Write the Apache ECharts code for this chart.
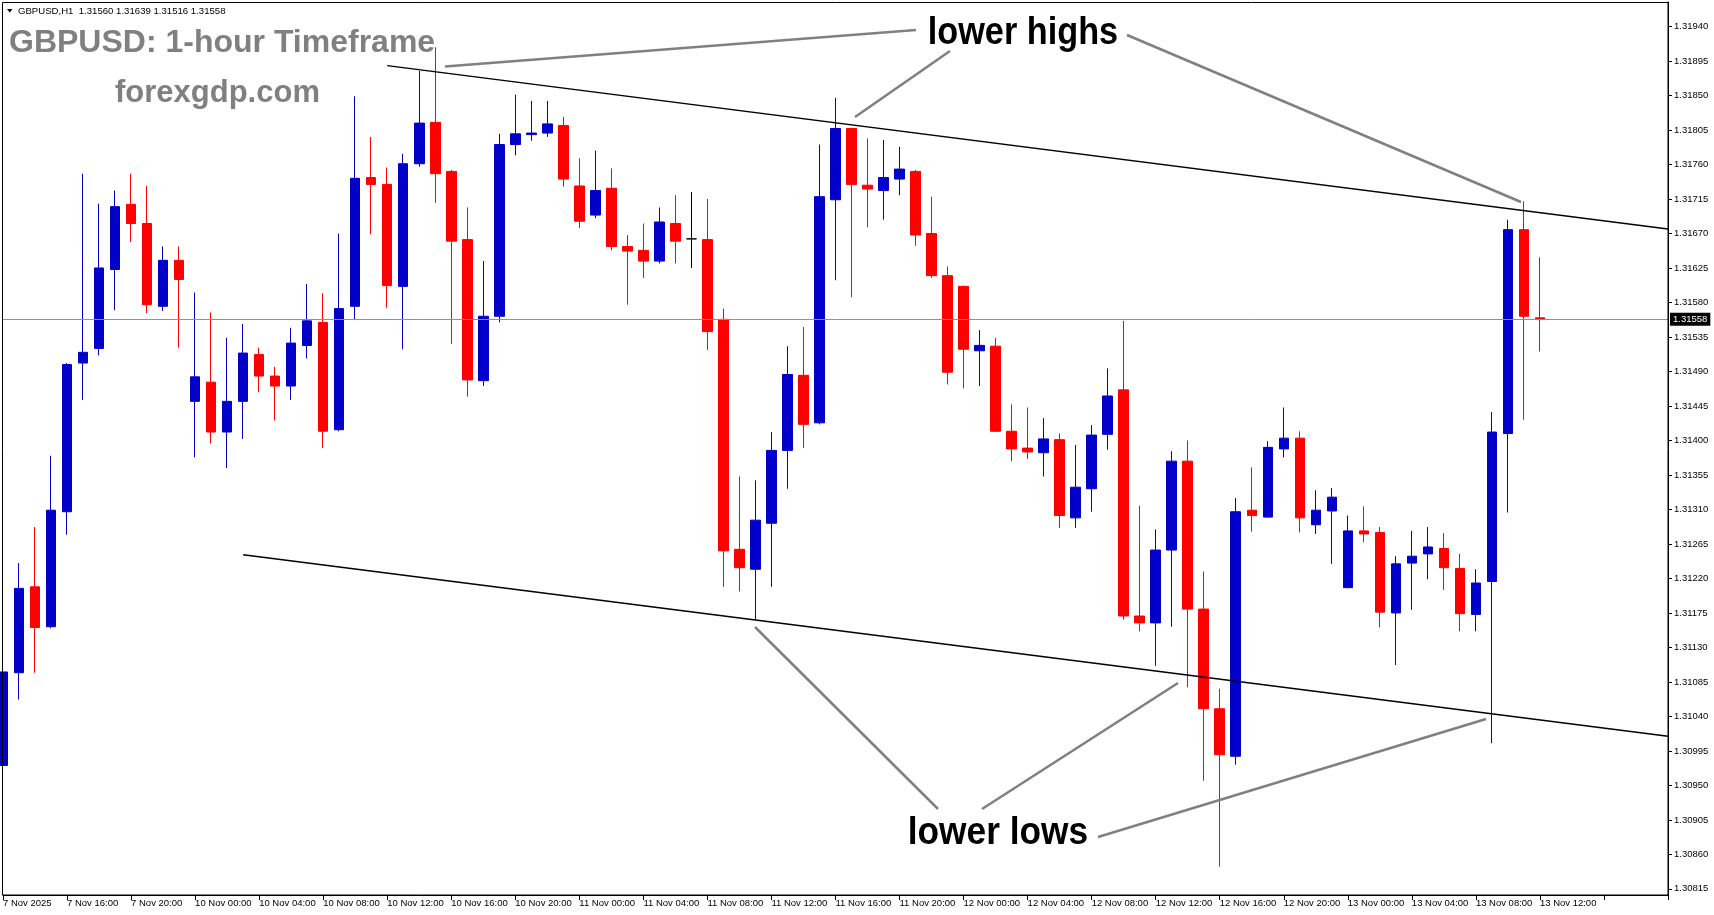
<!DOCTYPE html>
<html>
<head>
<meta charset="utf-8">
<title>GBPUSD H1</title>
<script src="https://cdn.jsdelivr.net/npm/echarts@6/dist/echarts.min.js"></script>
<style>
  html, body { margin: 0; padding: 0; background: #fff; }
  #chart { width: 1714px; height: 915px; }
</style>
</head>
<body>
<div id="chart"></div>
<script>
// hourly bars: Fri 7 Nov afternoon, then Mon 10 Nov .. Thu 13 Nov (last 8 slots are empty space)
const sessions = [
  ['7 Nov', 12, 23],
  ['10 Nov', 0, 23],
  ['11 Nov', 0, 23],
  ['12 Nov', 0, 23],
  ['13 Nov', 0, 20]
];
const firstLabel = '7 Nov 2025';

const opens = [
  1.30976, 1.31097, 1.31209, 1.31157, 1.31307, 1.31501, 1.31520, 1.31623, 1.31708, 1.31683,
  1.31575, 1.31635, 1.31451, 1.31476, 1.31411, 1.31451, 1.31512, 1.31484, 1.31471, 1.31524,
  1.31554, 1.31414, 1.31575, 1.31743, 1.31734, 1.31601, 1.31761, 1.31815, 1.31751, 1.31662,
  1.31478, 1.31562, 1.31786, 1.31799, 1.31801, 1.31811, 1.31732, 1.31694, 1.31729, 1.31653,
  1.31648, 1.31634, 1.31683, 1.31663, 1.31662, 1.31558, 1.31258, 1.31232, 1.31292, 1.31387,
  1.31485, 1.31423, 1.31714, 1.31807, 1.31733, 1.31726, 1.31741, 1.31751, 1.31670, 1.31615,
  1.31601, 1.31517, 1.31523, 1.31412, 1.31390, 1.31384, 1.31401, 1.31299, 1.31337, 1.31408,
  1.31466, 1.31171, 1.31162, 1.31257, 1.31373, 1.31180, 1.31050, 1.30988, 1.31309, 1.31300,
  1.31389, 1.31403, 1.31290, 1.31308, 1.31208, 1.31282, 1.31280, 1.31175, 1.31240, 1.31252,
  1.31259, 1.31233, 1.31173, 1.31216, 1.31409, 1.31675, 1.31560
];
const highs = [
  1.31103, 1.31240, 1.31287, 1.31380, 1.31501, 1.31748, 1.31709, 1.31726, 1.31748, 1.31732,
  1.31653, 1.31653, 1.31593, 1.31567, 1.31534, 1.31552, 1.31521, 1.31496, 1.31547, 1.31604,
  1.31592, 1.31670, 1.31849, 1.31796, 1.31756, 1.31774, 1.31882, 1.31913, 1.31753, 1.31704,
  1.31634, 1.31800, 1.31851, 1.31843, 1.31843, 1.31822, 1.31768, 1.31778, 1.31755, 1.31668,
  1.31683, 1.31704, 1.31720, 1.31724, 1.31715, 1.31572, 1.31353, 1.31348, 1.31411, 1.31523,
  1.31548, 1.31786, 1.31847, 1.31808, 1.31794, 1.31792, 1.31783, 1.31753, 1.31718, 1.31627,
  1.31602, 1.31544, 1.31534, 1.31447, 1.31443, 1.31429, 1.31409, 1.31394, 1.31420, 1.31494,
  1.31556, 1.31315, 1.31284, 1.31386, 1.31400, 1.31229, 1.31076, 1.31325, 1.31365, 1.31399,
  1.31443, 1.31412, 1.31335, 1.31338, 1.31302, 1.31314, 1.31287, 1.31249, 1.31282, 1.31287,
  1.31279, 1.31252, 1.31232, 1.31437, 1.31688, 1.31712, 1.31639
];
const lows = [
  1.30962, 1.31062, 1.31097, 1.31155, 1.31277, 1.31453, 1.31511, 1.31570, 1.31659, 1.31566,
  1.31569, 1.31521, 1.31378, 1.31396, 1.31364, 1.31402, 1.31463, 1.31426, 1.31453, 1.31507,
  1.31390, 1.31412, 1.31557, 1.31669, 1.31573, 1.31519, 1.31757, 1.31710, 1.31526, 1.31457,
  1.31471, 1.31554, 1.31772, 1.31791, 1.31796, 1.31731, 1.31677, 1.31690, 1.31648, 1.31577,
  1.31612, 1.31631, 1.31631, 1.31625, 1.31518, 1.31209, 1.31203, 1.31166, 1.31209, 1.31337,
  1.31390, 1.31421, 1.31609, 1.31587, 1.31678, 1.31688, 1.31720, 1.31654, 1.31612, 1.31473,
  1.31468, 1.31471, 1.31411, 1.31373, 1.31376, 1.31353, 1.31286, 1.31286, 1.31307, 1.31388,
  1.31166, 1.31151, 1.31106, 1.31157, 1.31078, 1.30956, 1.30844, 1.30977, 1.31281, 1.31299,
  1.31378, 1.31280, 1.31278, 1.31239, 1.31207, 1.31267, 1.31156, 1.31107, 1.31179, 1.31219,
  1.31205, 1.31151, 1.31151, 1.31005, 1.31306, 1.31427, 1.31516
];
const closes = [
  1.31098, 1.31207, 1.31156, 1.31309, 1.31499, 1.31515, 1.31625, 1.31705, 1.31683, 1.31577,
  1.31635, 1.31610, 1.31483, 1.31411, 1.31451, 1.31514, 1.31484, 1.31471, 1.31527, 1.31556,
  1.31412, 1.31572, 1.31742, 1.31734, 1.31602, 1.31761, 1.31814, 1.31748, 1.31660, 1.31479,
  1.31562, 1.31786, 1.31800, 1.31801, 1.31813, 1.31741, 1.31686, 1.31726, 1.31653, 1.31647,
  1.31634, 1.31685, 1.31660, 1.31663, 1.31542, 1.31256, 1.31234, 1.31296, 1.31387, 1.31486,
  1.31421, 1.31718, 1.31807, 1.31734, 1.31728, 1.31743, 1.31754, 1.31668, 1.31615, 1.31489,
  1.31519, 1.31524, 1.31412, 1.31389, 1.31385, 1.31402, 1.31302, 1.31339, 1.31407, 1.31458,
  1.31171, 1.31162, 1.31257, 1.31373, 1.31180, 1.31050, 1.30990, 1.31307, 1.31302, 1.31391,
  1.31403, 1.31299, 1.31309, 1.31326, 1.31282, 1.31278, 1.31176, 1.31239, 1.31249, 1.31261,
  1.31234, 1.31174, 1.31214, 1.31411, 1.31675, 1.31562, 1.31558
];

const yTicks = [
  1.30815, 1.30860, 1.30905, 1.30950, 1.30995, 1.31040, 1.31085, 1.31130, 1.31175,
  1.31220, 1.31265, 1.31310, 1.31355, 1.31400, 1.31445, 1.31490, 1.31535, 1.31580,
  1.31625, 1.31670, 1.31715, 1.31760, 1.31805, 1.31850, 1.31895, 1.31940
];

// channel lines: [bar index, price] at each end
const upperTrendIdx = [24, 104];
const upperTrendPrice = [1.31889, 1.31676];
const lowerTrendIdx = [15, 104];
const lowerTrendPrice = [1.31251, 1.31014];

const categories = [];
sessions.forEach(([day, from, to]) => {
  for (let h = from; h <= to; h++) {
    categories.push(day + ' ' + String(h).padStart(2, '0') + ':00');
  }
});
const lastBar = opens.length - 1;
const lastClose = closes[lastBar];
const candles = opens.map((o, i) => [o, closes[i], lows[i], highs[i]]);

const header = 'GBPUSD,H1  ' + [opens[lastBar], highs[lastBar], lows[lastBar], closes[lastBar]]
  .map(v => v.toFixed(5)).join(' ');

const grey = '#808080';
function pointer(x1, y1, x2, y2) {
  return { type: 'line', silent: true, z: 50,
    shape: { x1: x1, y1: y1, x2: x2, y2: y2 },
    style: { stroke: grey, lineWidth: 2.5 } };
}
function note(text, x, y, sx) {
  return { type: 'text', silent: true, z: 60, x: x, y: y, scaleX: sx,
    style: { text: text, x: 0, y: 0, fill: '#000', font: 'bold 38px "Liberation Sans"',
      align: 'left', verticalAlign: 'middle' } };
}

const chart = echarts.init(document.getElementById('chart'));
chart.setOption({
  animation: false,
  backgroundColor: '#ffffff',
  grid: { left: 3, right: 46, top: 2, bottom: 20, containLabel: false, outerBoundsMode: 'none' },
  xAxis: {
    type: 'category',
    data: categories,
    boundaryGap: false,
    axisLine: { lineStyle: { color: '#000', width: 1 } },
    axisTick: { interval: 3, length: 5, lineStyle: { color: '#000' } },
    axisLabel: {
      interval: 3, align: 'left', margin: 3, color: '#000',
      fontSize: 9.5, fontFamily: 'Liberation Sans',
      formatter: (v, i) => i === 0 ? firstLabel : (i > lastBar ? '' : v)
    },
    splitLine: { show: false }
  },
  yAxis: {
    type: 'value',
    position: 'right',
    min: 1.30807,
    max: 1.31972,
    splitLine: { show: false },
    axisLine: { show: true, lineStyle: { color: '#000', width: 1 } },
    axisTick: { show: true, length: 4, customValues: yTicks, lineStyle: { color: '#000' } },
    axisLabel: {
      customValues: yTicks, margin: 6, color: '#000',
      fontSize: 9.5, fontFamily: 'Liberation Sans',
      formatter: v => v.toFixed(5)
    }
  },
  series: [{
    type: 'candlestick',
    data: candles,
    barWidth: 10,
    itemStyle: {
      color: '#0000c8', color0: '#ff0000',
      borderColor: '#0000c8', borderColor0: '#ff0000',
      borderColorDoji: '#000000', borderWidth: 1
    },
    markLine: {
      silent: true,
      symbol: ['none', 'none'],
      precision: 5,
      data: [
        {
          yAxis: lastClose,
          lineStyle: { color: '#8a949e', width: 1, type: 'solid' },
          label: {
            show: true, position: 'end', distance: 2,
            formatter: lastClose.toFixed(5),
            backgroundColor: '#000', color: '#fff',
            fontSize: 9.5, fontFamily: 'Liberation Sans', padding: [2, 3, 1, 3]
          }
        },
        [
          { coord: [upperTrendIdx[0], upperTrendPrice[0]],
            lineStyle: { color: '#000', width: 1.5, type: 'solid' }, label: { show: false } },
          { coord: [upperTrendIdx[1], upperTrendPrice[1]] }
        ],
        [
          { coord: [lowerTrendIdx[0], lowerTrendPrice[0]],
            lineStyle: { color: '#000', width: 1.5, type: 'solid' }, label: { show: false } },
          { coord: [lowerTrendIdx[1], lowerTrendPrice[1]] }
        ]
      ]
    }
  }],
  graphic: [
    { type: 'rect', silent: true, z: 40,
      shape: { x: 2.5, y: 2.5, width: 1665.5, height: 892.5 },
      style: { fill: 'none', stroke: '#000', lineWidth: 1 } },
    { type: 'polygon', silent: true, z: 60,
      shape: { points: [[7, 9], [12.5, 9], [9.75, 12.5]] },
      style: { fill: '#000' } },
    { type: 'text', silent: true, z: 60, x: 18, y: 11.5,
      style: { text: header, fill: '#000', font: '9.6px "Liberation Sans"', verticalAlign: 'middle' } },
    { type: 'text', silent: true, z: 60, x: 9, y: 43,
      style: { text: 'GBPUSD: 1-hour Timeframe', fill: grey,
        font: 'bold 32px "Liberation Sans"', verticalAlign: 'middle' } },
    { type: 'text', silent: true, z: 60, x: 115, y: 93.5,
      style: { text: 'forexgdp.com', fill: grey,
        font: 'bold 31px "Liberation Sans"', verticalAlign: 'middle' } },
    pointer(445, 66.5, 916, 30),
    pointer(950, 51, 855, 117),
    pointer(1127, 35, 1521, 202),
    pointer(755, 627, 938, 809),
    pointer(982, 809, 1178, 683),
    pointer(1098, 837, 1486, 719),
    note('lower highs', 927.7, 33.5, 0.902),
    note('lower lows', 907.7, 834, 0.929)
  ]
});
</script>
</body>
</html>
